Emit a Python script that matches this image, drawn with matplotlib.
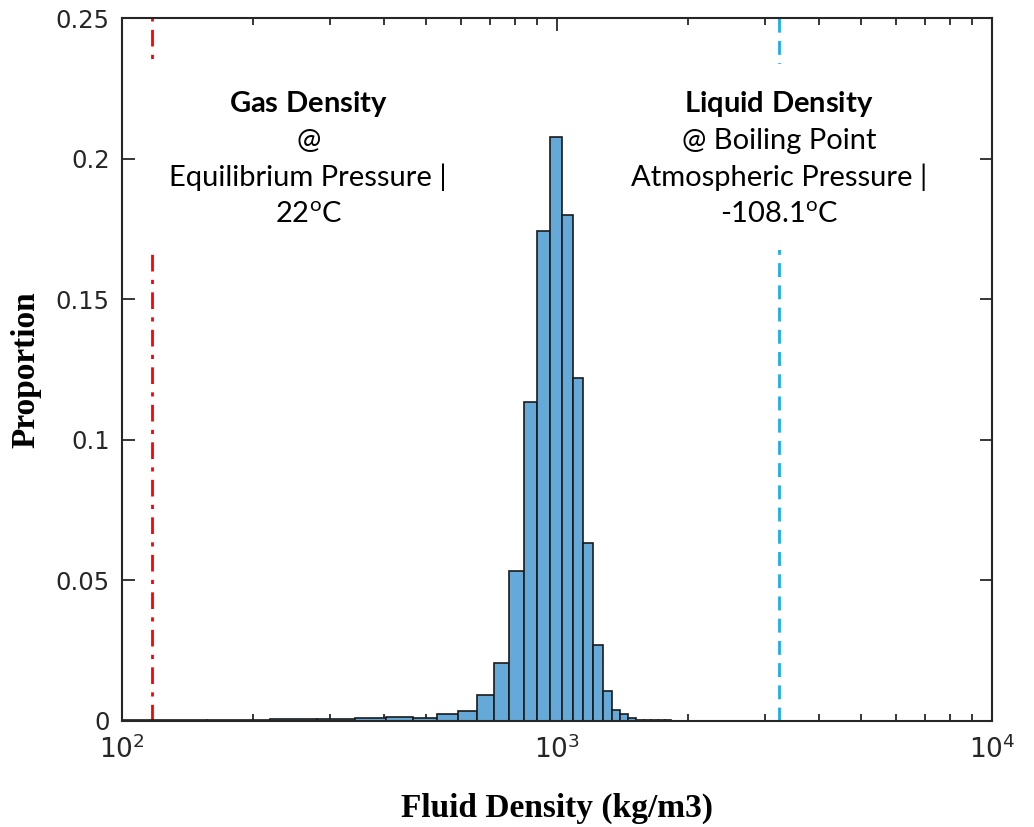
import numpy as np
import matplotlib
matplotlib.use("Agg")
import matplotlib.pyplot as plt
from matplotlib.ticker import FixedLocator, LogLocator, FuncFormatter, NullFormatter

# ---------------- data ----------------
bin_edges = [95, 157, 219, 281, 343, 405, 467, 529, 591, 653, 715, 777, 839, 901,
             963, 1025, 1087, 1149, 1211, 1273, 1335, 1397, 1459, 1521, 1583,
             1645, 1707, 1769, 1831]
proportions = [0.0003, 0.0003, 0.0005, 0.0006, 0.0008, 0.0013, 0.0011, 0.0023,
               0.0033, 0.0093, 0.0204, 0.0532, 0.1135, 0.1744, 0.2076, 0.1801,
               0.1219, 0.0631, 0.0269, 0.0106, 0.0038, 0.0023, 0.0009, 0.0003,
               0.0003, 0.0003, 0.0003, 0.0003]
gas_density = 117
liquid_density = 3240
gas_label = ["Gas Density", "@", "Equilibrium Pressure |", "22", "C"]
liquid_label = ["Liquid Density", "@ Boiling Point", "Atmospheric Pressure |", "-108.1", "C"]
gas_label_x = 268
y_ticks = [0, 0.05, 0.1, 0.15, 0.2, 0.25]
x_label = "Fluid Density (kg/m3)"
y_label = "Proportion"

# ---------------- style ----------------
plt.rcParams["font.family"] = ["DejaVu Sans"]
plt.rcParams["mathtext.fontset"] = "custom"
plt.rcParams["mathtext.rm"] = "Lato"
plt.rcParams["mathtext.bf"] = "Lato:bold"
plt.rcParams["mathtext.it"] = "Lato:italic"

axis_color = "#262626"
fig = plt.figure(figsize=(10.34, 8.27), dpi=100)
ax = fig.add_axes([0.118, 0.1286, 0.8414, 0.8493])

edges = np.array(bin_edges, dtype=float)
ax.bar(edges[:-1], proportions, width=np.diff(edges), align="edge",
       color="#64A9D8", edgecolor="#1a1a1a", linewidth=1.2, zorder=2)

ax.axvline(gas_density, color="#FF0000", linestyle=(0, (6, 3, 1.5, 3)),
           linewidth=2.0, zorder=1)
ax.axvline(liquid_density, color="#1AAFE8", linestyle=(0, (5, 3)),
           linewidth=2.0, zorder=1)

def make_label(parts):
    return ("$\\mathbf{" + parts[0].replace(" ", "\\ ") + "}$\n" + parts[1] + "\n" +
            parts[2] + "\n" + parts[3] + "$^{\\mathrm{o}}$" + parts[4])

box = dict(boxstyle="square,pad=0.8", facecolor="white", edgecolor="none")
ax.text(gas_label_x, 0.2003, make_label(gas_label), ha="center", va="center",
        ma="center", fontsize=21, family="Lato", linespacing=1.43,
        bbox=box, zorder=3)
ax.text(liquid_density, 0.2003, make_label(liquid_label), ha="center", va="center",
        ma="center", fontsize=21, family="Lato", linespacing=1.43,
        bbox=box, zorder=3)

ax.set_xscale("log")
ax.set_xlim(100, 10000)
ax.set_ylim(0, 0.25)
ax.yaxis.set_major_locator(FixedLocator(y_ticks))
ax.yaxis.set_major_formatter(FuncFormatter(lambda v, p: "%g" % v))
ax.xaxis.set_major_locator(LogLocator(base=10, numticks=5))
ax.xaxis.set_minor_locator(LogLocator(base=10, subs=np.arange(2, 10), numticks=20))
ax.xaxis.set_minor_formatter(NullFormatter())

for s in ax.spines.values():
    s.set_linewidth(1.5)
    s.set_color(axis_color)
ax.tick_params(which="both", direction="in", top=True, right=True,
               color=axis_color, labelcolor=axis_color, width=1.3)
ax.tick_params(which="major", length=9, pad=9)
ax.tick_params(axis="y", which="major", labelsize=17.5)
ax.tick_params(axis="x", which="major", labelsize=19, pad=10.5)
ax.tick_params(which="minor", length=5)

ax.set_xlabel(x_label, fontsize=24, fontweight="bold", family="Liberation Serif",
              labelpad=21, color="black")
ax.set_ylabel(y_label, fontsize=24, fontweight="bold", family="Liberation Serif",
              labelpad=10, color="black")

fig.savefig("out.png", dpi=100)
